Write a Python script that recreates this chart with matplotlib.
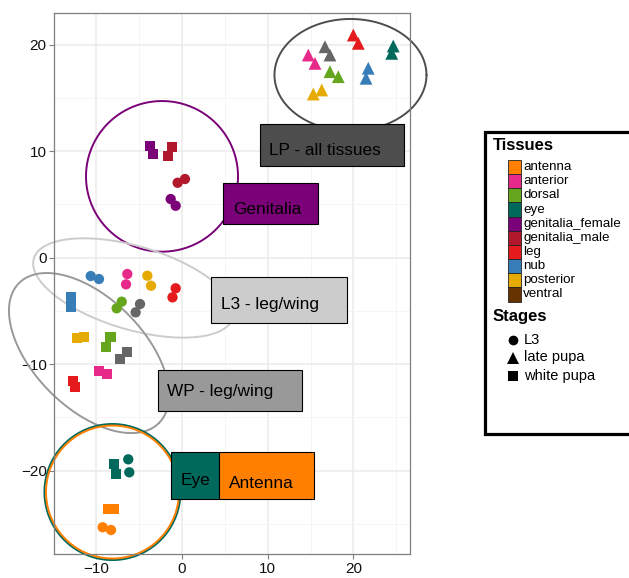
import numpy as np
import matplotlib
matplotlib.use("Agg")
import matplotlib.pyplot as plt
from matplotlib.patches import Rectangle
from matplotlib.ticker import MultipleLocator
from matplotlib.lines import Line2D

plt.rcParams['font.family'] = ['Liberation Sans', 'DejaVu Sans']

# ---------------- data ----------------
tissues = ["antenna", "anterior", "dorsal", "eye", "genitalia_female",
           "genitalia_male", "leg", "nub", "posterior", "ventral"]
tissue_colors = ["#FF7F00", "#E7298A", "#66A61E", "#00695C", "#7A0177",
                 "#B2182B", "#E41A1C", "#377EB8", "#E6AB02", "#663300"]
point_color_override = {"ventral": "#666666"}

stages = ["L3", "late pupa", "white pupa"]

l3_tissue = ["genitalia_male", "genitalia_male", "genitalia_female", "genitalia_female",
             "nub", "nub", "anterior", "anterior", "posterior", "posterior",
             "leg", "leg", "dorsal", "dorsal", "ventral", "ventral",
             "eye", "eye", "antenna", "antenna"]
l3_pc1 = [0.38, -0.47, -1.28, -0.70, -10.59, -9.63, -6.33, -6.48, -4.00, -3.57,
          -0.70, -1.07, -6.98, -7.57, -4.85, -5.36, -6.22, -6.10, -9.20, -8.23]
l3_pc2 = [7.37, 7.02, 5.49, 4.86, -1.74, -2.02, -1.55, -2.52, -1.71, -2.65,
          -2.89, -3.74, -4.15, -4.77, -4.37, -5.15, -18.95, -20.17, -25.33, -25.59]

lp_tissue = ["leg", "leg", "eye", "eye", "ventral", "ventral", "anterior", "anterior",
             "dorsal", "dorsal", "nub", "nub", "posterior", "posterior"]
lp_pc1 = [19.98, 20.56, 24.63, 24.45, 16.68, 17.26, 14.74, 15.52, 17.26, 18.23,
          21.72, 21.46, 16.30, 15.32]
lp_pc2 = [20.89, 20.11, 19.86, 19.17, 19.79, 19.01, 19.01, 18.23, 17.45, 16.98,
          17.77, 16.83, 15.73, 15.35]

wp_tissue = ["genitalia_female", "genitalia_female", "genitalia_male", "genitalia_male",
             "nub", "nub", "posterior", "posterior", "dorsal", "dorsal",
             "ventral", "ventral", "anterior", "anterior", "leg", "leg",
             "eye", "eye", "antenna", "antenna"]
wp_pc1 = [-3.69, -3.31, -1.16, -1.56, -12.92, -12.85, -12.15, -11.34, -8.27, -8.81,
          -6.40, -7.15, -9.59, -8.66, -12.69, -12.42, -7.88, -7.65, -8.52, -7.94]
wp_pc2 = [10.47, 9.72, 10.40, 9.53, -3.68, -4.62, -7.59, -7.49, -7.44, -8.43,
          -8.90, -9.53, -10.66, -10.97, -11.57, -12.13, -19.42, -20.36, -23.64, -23.64]

# group annotations: ellipse (center, semi-axes in x-units, angle) + label box
group_names = ["LP - all tissues", "Genitalia", "L3 - leg/wing", "WP - leg/wing", "Eye", "Antenna"]
group_colors = ["#4D4D4D", "#7A0177", "#CCCCCC", "#999999", "#00695C", "#FF7F00"]
ell_cx = [19.65, -2.29, -5.61, -10.79, -8.06, -8.06]
ell_cy = [17.14, 7.62, -2.86, -8.97, -22.02, -22.02]
ell_a = [8.85, 8.85, 12.1, 11.52, 7.92, 7.74]
ell_b = [6.52, 8.77, 4.85, 6.40, 7.92, 7.74]
ell_ang = [0, 0, -16.5, -45, 0, 0]
box_x0 = [9.12, 4.84, 3.41, -2.79, -1.28, 4.38]
box_x1 = [25.88, 15.83, 19.21, 13.97, 4.38, 15.40]
box_y0 = [8.62, 3.12, -6.18, -14.41, -22.65, -22.65]
box_y1 = [12.51, 7.02, -1.80, -10.59, -18.26, -18.26]
txt_x = [10.20, 5.94, 4.54, -1.68, -0.12, 5.51]
txt_y = [10.09, 4.55, -4.39, -12.60, -20.96, -21.20]

# ---------------- figure ----------------
W, H = 629, 578
fig = plt.figure(figsize=(W / 100, H / 100), dpi=100)
ax_l, ax_r, ax_t, ax_b = 54.3, 410.0, 13.0, 554.0
ax = fig.add_axes([ax_l / W, 1 - ax_b / H, (ax_r - ax_l) / W, (ax_b - ax_t) / H])
xlim = (-14.83, 26.58)
ylim = (-27.84, 22.96)
ax.set_xlim(*xlim)
ax.set_ylim(*ylim)

ax.xaxis.set_major_locator(MultipleLocator(10))
ax.yaxis.set_major_locator(MultipleLocator(10))
ax.xaxis.set_minor_locator(MultipleLocator(5))
ax.yaxis.set_minor_locator(MultipleLocator(5))
ax.grid(True, which='major', color='#EBEBEB', lw=1.1, zorder=0)
ax.grid(True, which='minor', color='#F4F4F4', lw=0.6, zorder=0)
ax.set_axisbelow(True)
for s in ax.spines.values():
    s.set_color('#7F7F7F')
    s.set_linewidth(0.9)
ax.tick_params(which='major', direction='out', length=3.5, width=0.8, color='#7F7F7F',
               labelsize=11, labelcolor='#111111', pad=2)
ax.tick_params(which='minor', length=0)

def fmt(v):
    return ("\u2212%d" % abs(v)) if v < 0 else "%d" % v
ax.set_xticks([-10, 0, 10, 20])
ax.set_xticklabels([fmt(v) for v in [-10, 0, 10, 20]])
ax.set_yticks([-20, -10, 0, 10, 20])
ax.set_yticklabels([fmt(v) for v in [-20, -10, 0, 10, 20]])

# aspect factor (pixels per y unit / pixels per x unit)
pxx = (ax_r - ax_l) / (xlim[1] - xlim[0])
pxy = (ax_b - ax_t) / (ylim[1] - ylim[0])
k = pxy / pxx

t = np.linspace(0, 2 * np.pi, 300)
for i in range(len(group_names)):
    th = np.deg2rad(ell_ang[i])
    u = ell_a[i] * np.cos(t) * np.cos(th) - ell_b[i] * np.sin(t) * np.sin(th)
    v = ell_a[i] * np.cos(t) * np.sin(th) + ell_b[i] * np.sin(t) * np.cos(th)
    ax.plot(ell_cx[i] + u, ell_cy[i] + v / k, color=group_colors[i], lw=1.4,
            zorder=2, clip_on=False, solid_capstyle='round')

def pcol(tn):
    return point_color_override.get(tn, tissue_colors[tissues.index(tn)])

ax.scatter(l3_pc1, l3_pc2, c=[pcol(x) for x in l3_tissue], marker='o', s=55,
           linewidths=0, zorder=3)
ax.scatter(wp_pc1, wp_pc2, c=[pcol(x) for x in wp_tissue], marker='s', s=55,
           linewidths=0, zorder=3)
ax.scatter(lp_pc1, lp_pc2, c=[pcol(x) for x in lp_tissue], marker='^', s=85,
           linewidths=0, zorder=3)

for i in range(len(group_names)):
    ax.add_patch(Rectangle((box_x0[i], box_y0[i]), box_x1[i] - box_x0[i],
                           box_y1[i] - box_y0[i], facecolor=group_colors[i],
                           edgecolor='black', lw=0.8, zorder=5))
    ax.text(txt_x[i], txt_y[i], group_names[i], fontsize=12.4, color='black',
            ha='left', va='center', zorder=6)

# ---------------- legend (drawn in figure pixel space) ----------------
lg = fig.add_axes([0, 0, 1, 1])
lg.set_xlim(0, W)
lg.set_ylim(H, 0)
lg.axis('off')
lg.patch.set_alpha(0)
lg.add_patch(Rectangle((485, 131.5), 200, 302, facecolor='white', edgecolor='black',
                       lw=2.3, zorder=1))
lg.text(493, 145, "Tissues", fontsize=12, fontweight='bold', ha='left', va='center', zorder=2)
row_h = 14.15
for i, (tn, col) in enumerate(zip(tissues, tissue_colors)):
    y0 = 160 + i * row_h
    lg.add_patch(Rectangle((507.5, y0), 13.3, row_h, facecolor=col, edgecolor='#222222',
                           lw=0.6, zorder=2))
    lg.text(523, y0 + row_h / 2, tn, fontsize=9.6, ha='left', va='center', zorder=3)

lg.text(493, 316.5, "Stages", fontsize=12, fontweight='bold', ha='left', va='center', zorder=2)
stage_markers = ['o', '^', 's']
stage_ms = [7.0, 8.5, 7.0]
stage_y = [340, 357.5, 376]
for st, mk, ms, yy in zip(stages, stage_markers, stage_ms, stage_y):
    lg.plot([513], [yy], marker=mk, ms=ms, color='black', mew=0, zorder=3)
    lg.text(524, yy, st, fontsize=10.5, ha='left', va='center', zorder=3)

fig.savefig("out.png", dpi=100)
